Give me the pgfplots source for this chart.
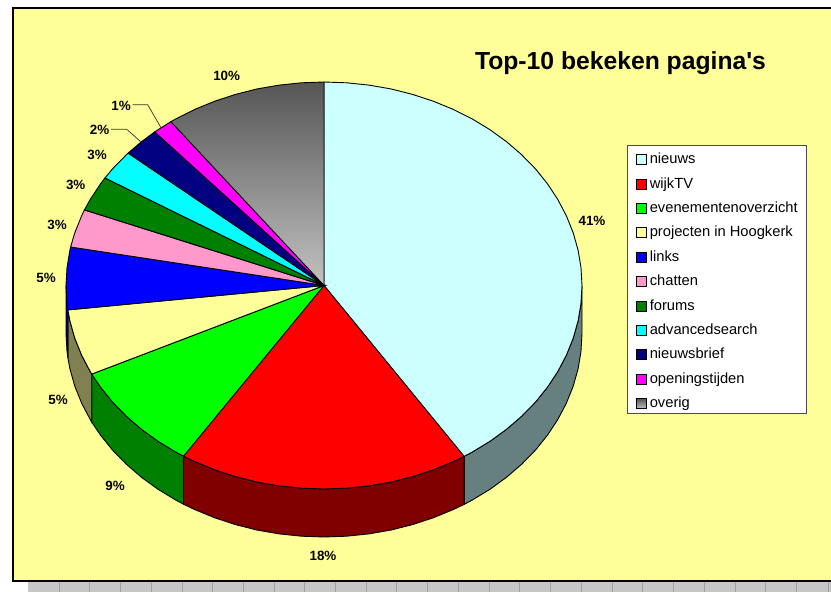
\documentclass[border=0pt]{standalone}
\usepackage{fontspec}
\setmainfont{Liberation Sans}
\newfontfamily\plainsans{Liberation Sans}
\usepackage{pgfplots}
\pgfplotsset{compat=1.18}
\definecolor{cNieuws}{HTML}{CCFFFF}
\definecolor{cNieuwsW}{HTML}{668080}
\definecolor{cWijk}{HTML}{FF0000}
\definecolor{cWijkW}{HTML}{800000}
\definecolor{cEven}{HTML}{00FF00}
\definecolor{cEvenW}{HTML}{008000}
\definecolor{cProj}{HTML}{FFFF99}
\definecolor{cProjW}{HTML}{808050}
\definecolor{cLinks}{HTML}{0000FF}
\definecolor{cLinksW}{HTML}{000080}
\definecolor{cChat}{HTML}{FF99CC}
\definecolor{cForum}{HTML}{008000}
\definecolor{cAdv}{HTML}{00FFFF}
\definecolor{cBrief}{HTML}{000080}
\definecolor{cOpen}{HTML}{FF00FF}
\definecolor{cOverT}{HTML}{565656}
\definecolor{cOverB}{HTML}{C2C2C2}
\definecolor{cStrip}{HTML}{C6C6C6}
\definecolor{cStripL}{HTML}{A0A0A0}
\newcommand{\lab}[3]{\node[font=\fontsize{13.4}{15}\selectfont\bfseries,inner sep=0pt] at (axis cs:#1,#2) {#3\%};}
\begin{document}
\begin{tikzpicture}
\begin{axis}[
  scale only axis, width=831pt, height=592pt,
  xmin=-324, xmax=507, ymin=-306.5, ymax=285.5,
  hide axis, clip=true,
  legend cell align=left,
  legend image code/.code={\draw[#1,line width=0.8pt] (0pt,-5pt) rectangle (10pt,5pt);},
  legend style={
    at={(axis cs:303,139.5)}, anchor=north west,
    draw=none, fill=none,
    inner xsep=9pt, inner ysep=6.5pt, row sep=10.4pt,
    font=\fontsize{14.7}{17}\selectfont,
    nodes={inner sep=0pt, text height=11pt, text depth=3pt},
    /tikz/every odd column/.append style={column sep=2.8pt},
  },
]
% sheet background
\fill[white] (axis cs:-324,-306.5) rectangle (axis cs:507,285.5);
\fill[cStrip] (axis cs:-296,-296.5) rectangle (axis cs:507,-306.5);
\pgfplotsinvokeforeach{-265,-234.5,-204,-173,-142,-112,-81,-50,-20,11,42,72,103,134,165,195,226,257,288,318,349,380,411,441,472,504}{
  \draw[cStripL,line width=0.8pt] (axis cs:#1,-296.5) -- (axis cs:#1,-306.5);
}
\draw[black,line width=2pt,fill=cProj] (axis cs:-311.5,277.5) rectangle (axis cs:516,-295.5);

% side walls
\addplot[forget plot,draw=black,line width=0.9pt,fill=cNieuwsW] coordinates {
(258,0)(257,-17.7)(254.1,-35.3)(249.2,-52.7)(242.4,-69.6)(233.8,-86)(223.4,-101.8)(211.4,-116.7)(197.6,-130.8)(182.4,-143.9)(165.8,-155.9)(148,-166.7)(140.1,-170.9)
(140.1,-218.9)(148,-214.7)(165.8,-203.9)(182.4,-191.9)(197.6,-178.8)(211.4,-164.7)(223.4,-149.8)(233.8,-134)(242.4,-117.6)(249.2,-100.7)(254.1,-83.3)(257,-65.7)(258,-48)
} -- cycle;
\addplot[forget plot,draw=black,line width=0.9pt,fill=cWijkW] coordinates {
(140.1,-170.9)(129,-176.2)(109,-184.4)(88.2,-191.2)(66.8,-196.6)(44.8,-200.4)(22.5,-202.7)(0,-203.5)(-22.5,-202.7)(-44.8,-200.4)(-66.8,-196.6)(-88.2,-191.2)(-109,-184.4)(-129,-176.2)(-140.5,-170.7)
(-140.5,-218.7)(-129,-224.2)(-109,-232.4)(-88.2,-239.2)(-66.8,-244.6)(-44.8,-248.4)(-22.5,-250.7)(0,-251.5)(22.5,-250.7)(44.8,-248.4)(66.8,-244.6)(88.2,-239.2)(109,-232.4)(129,-224.2)(140.1,-218.9)
} -- cycle;
\addplot[forget plot,draw=black,line width=0.9pt,fill=cEvenW] coordinates {
(-140.5,-170.7)(-148,-166.7)(-165.8,-155.9)(-182.4,-143.9)(-197.6,-130.8)(-211.4,-116.7)(-223.4,-101.8)(-232.3,-88.6)
(-232.3,-136.6)(-223.4,-149.8)(-211.4,-164.7)(-197.6,-178.8)(-182.4,-191.9)(-165.8,-203.9)(-148,-214.7)(-140.5,-218.7)
} -- cycle;
\addplot[forget plot,draw=black,line width=0.9pt,fill=cProjW] coordinates {
(-232.3,-88.6)(-233.8,-86)(-242.4,-69.6)(-249.2,-52.7)(-254.1,-35.3)(-256.1,-24.4)
(-256.1,-72.4)(-254.1,-83.3)(-249.2,-100.7)(-242.4,-117.6)(-233.8,-134)(-232.3,-136.6)
} -- cycle;
\addplot[forget plot,draw=black,line width=0.9pt,fill=cLinksW] coordinates {
(-256.1,-24.4)(-257,-17.7)(-258,0)(-258,-48)(-257,-65.7)(-256.1,-72.4)
} -- cycle;

% top faces
\addplot[forget plot,draw=black,line width=0.9pt,fill=cNieuws] coordinates {
(0,0)(0,203.5)(22.5,202.7)(44.8,200.4)(66.8,196.6)(88.2,191.2)(109,184.4)(129,176.2)(148,166.7)(165.8,155.9)(182.4,143.9)(197.6,130.8)(211.4,116.7)(223.4,101.8)(233.8,86)(242.4,69.6)(249.2,52.7)(254.1,35.3)(257,17.7)(258,0)
(257,-17.7)(254.1,-35.3)(249.2,-52.7)(242.4,-69.6)(233.8,-86)(223.4,-101.8)(211.4,-116.7)(197.6,-130.8)(182.4,-143.9)(165.8,-155.9)(148,-166.7)(140.1,-170.9)
} -- cycle;
\addplot[forget plot,draw=black,line width=0.9pt,fill=cWijk] coordinates {
(0,0)(140.1,-170.9)(129,-176.2)(109,-184.4)(88.2,-191.2)(66.8,-196.6)(44.8,-200.4)(22.5,-202.7)(0,-203.5)(-22.5,-202.7)(-44.8,-200.4)(-66.8,-196.6)(-88.2,-191.2)(-109,-184.4)(-129,-176.2)(-140.5,-170.7)
} -- cycle;
\addplot[forget plot,draw=black,line width=0.9pt,fill=cEven] coordinates {
(0,0)(-140.5,-170.7)(-148,-166.7)(-165.8,-155.9)(-182.4,-143.9)(-197.6,-130.8)(-211.4,-116.7)(-223.4,-101.8)(-232.3,-88.6)
} -- cycle;
\addplot[forget plot,draw=black,line width=0.9pt,fill=cProj] coordinates {
(0,0)(-232.3,-88.6)(-233.8,-86)(-242.4,-69.6)(-249.2,-52.7)(-254.1,-35.3)(-256.1,-24.4)
} -- cycle;
\addplot[forget plot,draw=black,line width=0.9pt,fill=cLinks] coordinates {
(0,0)(-256.1,-24.4)(-257,-17.7)(-258,0)(-257,17.7)(-254.1,35.3)(-253.4,38.5)
} -- cycle;
\addplot[forget plot,draw=black,line width=0.9pt,fill=cChat] coordinates {
(0,0)(-253.4,38.5)(-249.2,52.7)(-242.4,69.6)(-239.6,75.6)
} -- cycle;
\addplot[forget plot,draw=black,line width=0.9pt,fill=cForum] coordinates {
(0,0)(-239.6,75.6)(-233.8,86)(-223.4,101.8)(-219,107.5)
} -- cycle;
\addplot[forget plot,draw=black,line width=0.9pt,fill=cAdv] coordinates {
(0,0)(-219,107.5)(-211.4,116.7)(-197.6,130.8)(-195.9,132.4)
} -- cycle;
\addplot[forget plot,draw=black,line width=0.9pt,fill=cBrief] coordinates {
(0,0)(-195.9,132.4)(-182.4,143.9)(-169.3,153.6)
} -- cycle;
\addplot[forget plot,draw=black,line width=0.9pt,fill=cOpen] coordinates {
(0,0)(-169.3,153.6)(-165.8,155.9)(-153.1,163.8)
} -- cycle;
\addplot[forget plot,draw=black,line width=0.9pt,top color=cOverT,bottom color=cOverB] coordinates {
(0,0)(-153.1,163.8)(-148,166.7)(-129,176.2)(-109,184.4)(-88.2,191.2)(-66.8,196.6)(-44.8,200.4)(-22.5,202.7)(0,203.5)
} -- cycle;

% leader lines
\addplot[forget plot,black!80,line width=0.7pt] coordinates {(-191.3,180.8)(-176.3,180.8)(-163,157.8)};
\addplot[forget plot,black!80,line width=0.7pt] coordinates {(-213,156.2)(-197.3,156.2)(-183.3,143.8)};

% legend frame
\draw[black!70,fill=white,line width=0.9pt] (axis cs:303,139.7) rectangle (axis cs:482,-127.5);

% legend
\addlegendimage{draw=black,fill=cNieuws}\addlegendentry{nieuws}
\addlegendimage{draw=black,fill=cWijk}\addlegendentry{wijkTV}
\addlegendimage{draw=black,fill=cEven}\addlegendentry{evenementenoverzicht}
\addlegendimage{draw=black,fill=cProj}\addlegendentry{projecten in Hoogkerk}
\addlegendimage{draw=black,fill=cLinks}\addlegendentry{links}
\addlegendimage{draw=black,fill=cChat}\addlegendentry{chatten}
\addlegendimage{draw=black,fill=cForum}\addlegendentry{forums}
\addlegendimage{draw=black,fill=cAdv}\addlegendentry{advancedsearch}
\addlegendimage{draw=black,fill=cBrief}\addlegendentry{nieuwsbrief}
\addlegendimage{draw=black,fill=cOpen}\addlegendentry{openingstijden}
\addlegendimage{draw=black,top color=cOverT,bottom color=cOverB}\addlegendentry{overig}

% labels
\lab{268}{65}{41}
\lab{-1}{-270.7}{18}
\lab{-209}{-200.2}{9}
\lab{-266}{-114.2}{5}
\lab{-278}{7.8}{5}
\lab{-267}{60.8}{3}
\lab{-248.3}{100.8}{3}
\lab{-227}{130.8}{3}
\lab{-224.5}{155.5}{2}
\lab{-203}{180}{1}
\lab{-97.3}{209.6}{10}
\node[font=\fontsize{24.7}{28}\selectfont\plainsans\bfseries,inner sep=0pt] at (axis cs:296.5,222) {Top-10 bekeken pagina's};
\end{axis}
\end{tikzpicture}
\end{document}
